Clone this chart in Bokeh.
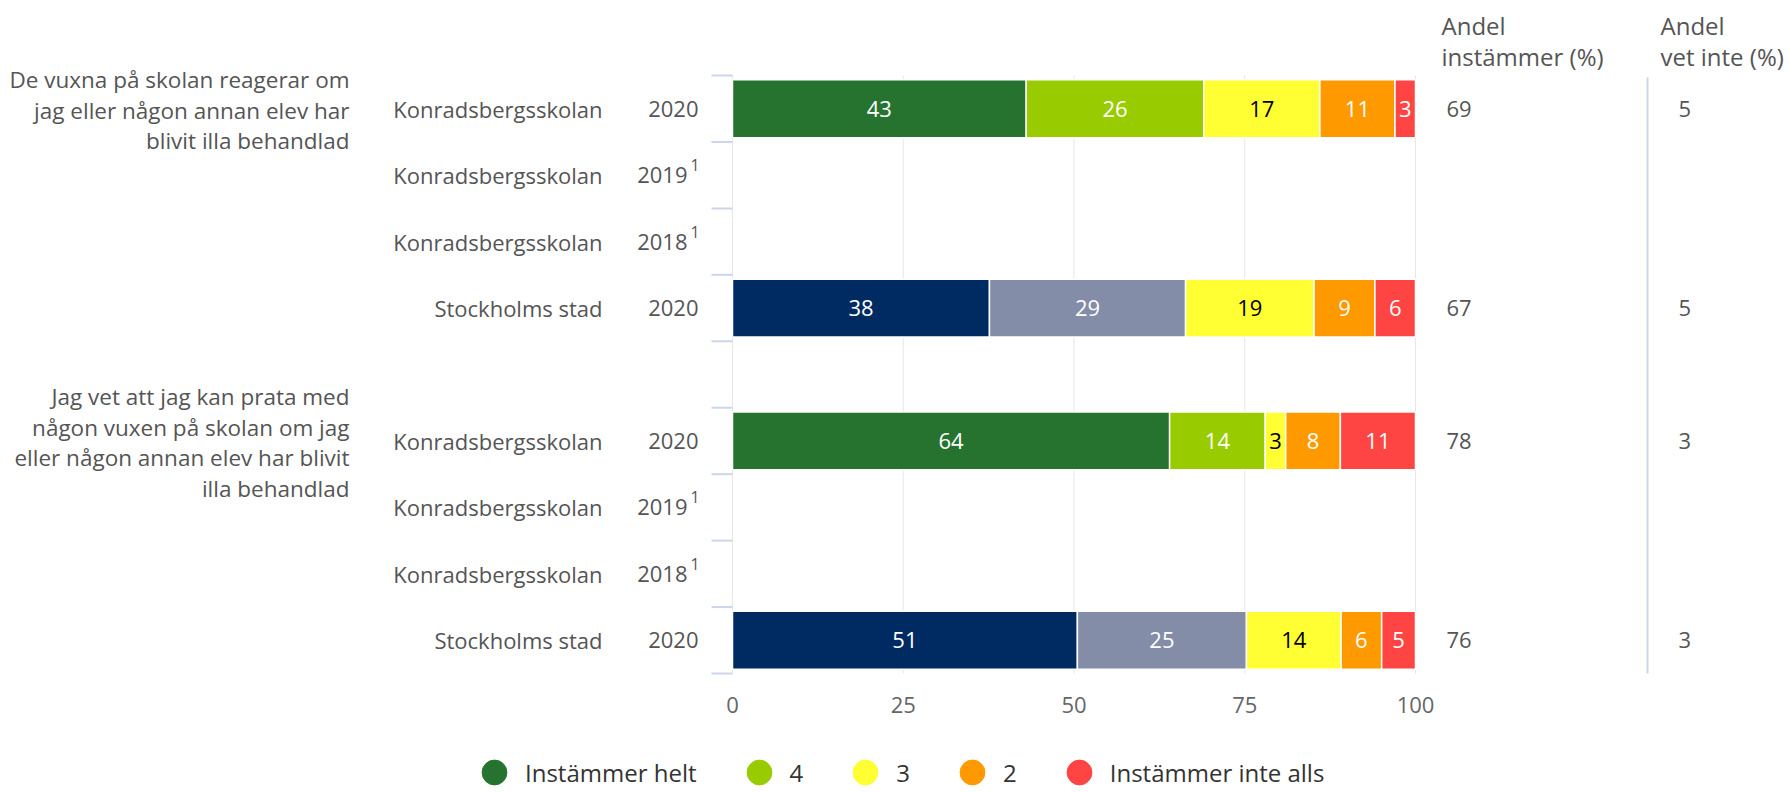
from bokeh.plotting import figure
from bokeh.models import Range1d, Legend, LegendItem, ColumnDataSource
from bokeh.core.properties import value
from bokeh.embed import file_html
from bokeh.resources import INLINE

# ---------------- data ----------------
questions = [
    "De vuxna på skolan reagerar om\njag eller någon annan elev har\nblivit illa behandlad",
    "Jag vet att jag kan prata med\nnågon vuxen på skolan om jag\neller någon annan elev har blivit\nilla behandlad",
]
units = ["Konradsbergsskolan", "Konradsbergsskolan", "Konradsbergsskolan", "Stockholms stad"]
years = ["2020", "2019", "2018", "2020"]
notes = ["", "1", "1", ""]
series = ["Instämmer helt", "4", "3", "2", "Instämmer inte alls"]

# one entry per (question, unit) row; None = no data
instammer_helt = [43, None, None, 38, 64, None, None, 51]
svar_4 = [26, None, None, 29, 14, None, None, 25]
svar_3 = [17, None, None, 19, 3, None, None, 14]
svar_2 = [11, None, None, 9, 8, None, None, 6]
instammer_inte_alls = [3, None, None, 6, 11, None, None, 5]
andel_instammer = [69, None, None, 67, 78, None, None, 76]
andel_vet_inte = [5, None, None, 5, 3, None, None, 3]

x_ticks = [0, 25, 50, 75, 100]
headers = ["Andel\ninstämmer (%)", "Andel\nvet inte (%)"]

school_colors = ["#267330", "#99cc00", "#ffff33", "#ff9900", "#ff4444"]
city_colors = ["#002b62", "#838da8", "#ffff33", "#ff9900", "#ff4444"]
label_colors = ["white", "white", "black", "white", "white"]

# ---------------- layout ----------------
W, H = 1789, 792
X0, X100 = 732, 1415
TOP, BOTTOM = 75, 673
PPU = (X100 - X0) / 100.0
n_units = len(units)
n_bands = len(questions) * (n_units + 1) - 1
BAND = (BOTTOM - TOP) / n_bands
LINE = 30.5 / BAND   # text line spacing in data units


def px2x(px):
    return (px - X0) / PPU


def py2y(py):
    return (py - TOP) / BAND


FONT = "Open Sans"
FS = "22px"
TXT = "#555555"


def txt(**kw):
    base = dict(text_baseline="middle", text_color=TXT, text_font=value(FONT), text_font_size=FS)
    base.update(kw)
    return base


p = figure(width=W, height=H, output_backend="svg", toolbar_location=None,
           x_range=Range1d(px2x(0), px2x(W)), y_range=Range1d(py2y(H), py2y(0)),
           x_axis_location=None, y_axis_location=None,
           min_border_left=0, min_border_right=0, min_border_top=0, min_border_bottom=0)
p.outline_line_color = None
p.background_fill_color = "white"
p.border_fill_color = "white"
p.xgrid.visible = False
p.ygrid.visible = False

# value axis: grid lines and tick labels
p.segment(x0=x_ticks, x1=x_ticks, y0=[0] * len(x_ticks), y1=[n_bands] * len(x_ticks),
          line_color="#e6e6e6", line_width=1)
p.text(x=x_ticks, y=[py2y(704)] * len(x_ticks), text=[str(t) for t in x_ticks],
       **txt(text_align="center", text_color="#666666"))

# row positions
row_y = []
for q in range(len(questions)):
    for u in range(n_units):
        row_y.append(q * (n_units + 1) + u + 0.5)

# category tick marks at band boundaries
bounds = list(range(n_bands + 1))
p.segment(x0=[px2x(711)] * len(bounds), x1=[0] * len(bounds), y0=bounds, y1=bounds,
          line_color="#ccd6eb", line_width=2)

# stacked percent bars
all_series = [instammer_helt, svar_4, svar_3, svar_2, instammer_inte_alls]
for k, vals in enumerate(all_series):
    ys, lefts, rights, cols, labs, mids = [], [], [], [], [], []
    for r, v in enumerate(vals):
        if v is None:
            continue
        row_vals = [s[r] for s in all_series]
        tot = float(sum(row_vals))
        left = sum(row_vals[:k]) / tot * 100
        right = left + v / tot * 100
        ys.append(row_y[r])
        lefts.append(left)
        rights.append(right)
        cols.append(city_colors[k] if units[r % n_units] == "Stockholms stad" else school_colors[k])
        labs.append(str(v))
        mids.append((left + right) / 2)
    src = ColumnDataSource(dict(y=ys, left=lefts, right=rights, color=cols, lab=labs, mid=mids))
    p.hbar(y="y", left="left", right="right", height=0.87, fill_color="color",
           line_color="white", line_width=1.5, source=src)
    p.text(x="mid", y="y", text="lab", source=src,
           **txt(text_align="center", text_color=label_colors[k]))

# category labels
cat_src = ColumnDataSource(dict(
    y=row_y,
    unit=[units[r % n_units] for r in range(len(row_y))],
    year=[years[r % n_units] for r in range(len(row_y))],
    yx=[px2x(687) if notes[r % n_units] else px2x(698) for r in range(len(row_y))],
))
p.text(x=px2x(602), y="y", text="unit", source=cat_src, **txt(text_align="right"))
p.text(x="yx", y="y", text="year", source=cat_src, **txt(text_align="right"))
note_rows = [r for r in range(len(row_y)) if notes[r % n_units]]
p.text(x=[px2x(690)] * len(note_rows), y=[row_y[r] - 0.15 for r in note_rows],
       text=[notes[r % n_units] for r in note_rows], **txt(text_align="left", text_font_size="16px"))

# question labels, one text per line, right aligned
qx, qy, qt = [], [], []
for q, question in enumerate(questions):
    lines = question.split("\n")
    centre = q * (n_units + 1) + 0.5 + 0.02
    for i, line in enumerate(lines):
        qx.append(px2x(349))
        qy.append(centre + (i - (len(lines) - 1) / 2) * LINE)
        qt.append(line)
p.text(x=qx, y=qy, text=qt, **txt(text_align="right", text_font_size="22.5px"))

# right columns
ai_rows = [r for r, v in enumerate(andel_instammer) if v is not None]
p.text(x=[px2x(1446)] * len(ai_rows), y=[row_y[r] for r in ai_rows],
       text=[str(andel_instammer[r]) for r in ai_rows], **txt(text_align="left"))
vi_rows = [r for r, v in enumerate(andel_vet_inte) if v is not None]
p.text(x=[px2x(1678)] * len(vi_rows), y=[row_y[r] for r in vi_rows],
       text=[str(andel_vet_inte[r]) for r in vi_rows], **txt(text_align="left"))
p.segment(x0=[px2x(1647)], x1=[px2x(1647)], y0=[py2y(77)], y1=[n_bands],
          line_color="#ccd6eb", line_width=2)

hx, hy, ht = [], [], []
for hpx, header in zip([1441, 1660], headers):
    for i, line in enumerate(header.split("\n")):
        hx.append(px2x(hpx))
        hy.append(py2y(25 + i * 31))
        ht.append(line)
p.text(x=hx, y=hy, text=ht, **txt(text_align="left", text_font_size="24px"))

# legend (renderers hold a single NaN point so only the legend glyph shows)
nan = float("nan")
items = []
for name, col in zip(series, school_colors):
    r = p.scatter(x=[nan], y=[nan], marker="circle", size=25, fill_color=col, line_color=col)
    items.append(LegendItem(label=name, renderers=[r]))
legend = Legend(items=items, orientation="horizontal", location=(463, -11),
                glyph_width=62, glyph_height=62, label_standoff=0, spacing=31,
                label_width=0, padding=0, margin=0, border_line_color=None,
                background_fill_alpha=0, inactive_fill_alpha=0,
                label_text_font=FONT, label_text_font_size="24px", label_text_color="#333333")
p.add_layout(legend)

open("out.html", "w").write(file_html(p, INLINE))
